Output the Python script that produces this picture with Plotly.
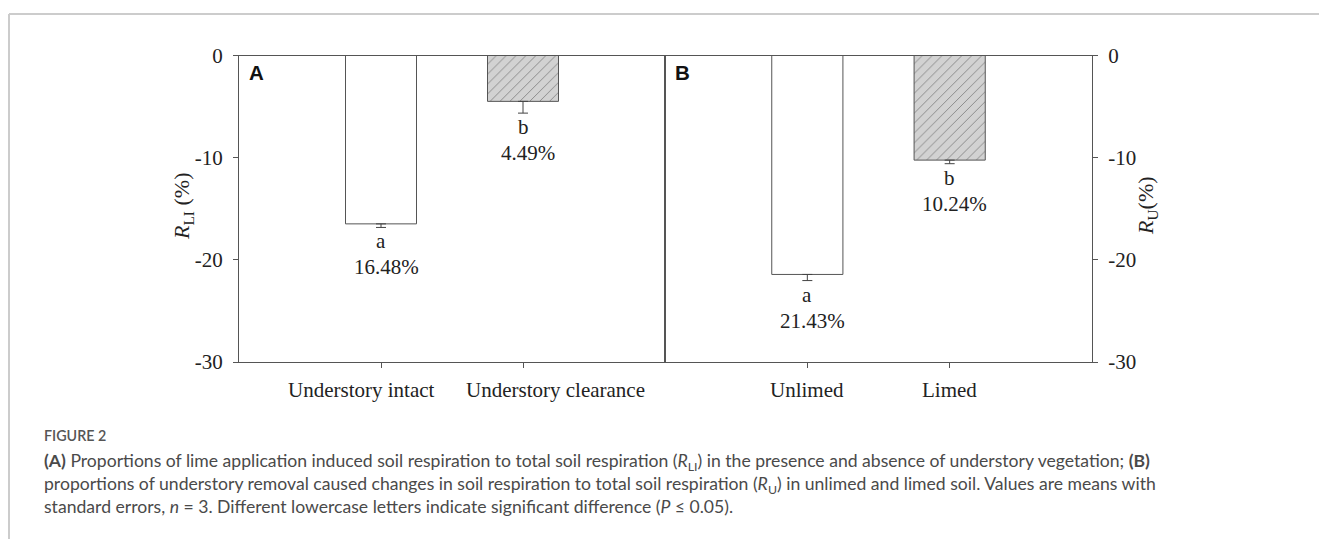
import plotly.graph_objects as go

# Panel A: lime-induced share of soil respiration, by understory treatment
cats_a = ["Understory intact", "Understory clearance"]
vals_a = [-16.48, -4.49]
se_a = [0.35, 1.15]
letters_a = ["a", "b"]

# Panel B: understory-removal share of soil respiration, by liming
cats_b = ["Unlimed", "Limed"]
vals_b = [-21.43, -10.24]
se_b = [0.6, 0.35]
letters_b = ["a", "b"]

y_ticks = [0, -10, -20, -30]
y_ticktext = ["0", "-10", "-20", "-30"]

W, H = 1319, 539
SERIF = "Liberation Serif"
AX = "#555555"
TXT = "#222222"
FS = 21


def px_x(p):
    return p / W


def px_y(p):
    return 1 - p / H


fig = go.Figure()

fills = ["white", "#d2d2d2"]

for cats, vals, se, xa, ya in [(cats_a, vals_a, se_a, "x", "y"), (cats_b, vals_b, se_b, "x2", "y2")]:
    fig.add_trace(go.Bar(
        x=cats, y=vals, xaxis=xa, yaxis=ya, width=0.5,
        marker=dict(color=fills, line=dict(color=AX, width=1), pattern=dict(
            shape=["", "/"], fgcolor="#4a4a4a", bgcolor=fills, size=7, solidity=0.14)),
        error_y=dict(type="data", symmetric=False, array=[0] * len(se), arrayminus=se,
                     color="#444444", thickness=1, width=5),
        showlegend=False, hoverinfo="skip",
    ))

annotations = []
# significance letters and mean values under each bar
for cats, vals, se, letters, xa, ya in [(cats_a, vals_a, se_a, letters_a, "x", "y"),
                                         (cats_b, vals_b, se_b, letters_b, "x2", "y2")]:
    for c, v, s, l in zip(cats, vals, se, letters):
        annotations.append(dict(x=c, y=v - s, xref=xa, yref=ya, text=l, showarrow=False,
                                xanchor="center", yanchor="top", yshift=0,
                                font=dict(family=SERIF, size=FS, color=TXT)))
        annotations.append(dict(x=c, y=v - s, xref=xa, yref=ya, text=f"{abs(v):.2f}%", showarrow=False,
                                xanchor="center", yanchor="top", yshift=-26, xshift=5,
                                font=dict(family=SERIF, size=FS, color=TXT)))

# category labels below each panel (the two long ones are spread apart)
label_shift = {"Understory intact": -20, "Understory clearance": 32}
for cats, xa in [(cats_a, "x"), (cats_b, "x2")]:
    for c in cats:
        annotations.append(dict(x=c, y=px_y(390), xref=xa, yref="paper", text=c, showarrow=False,
                                xanchor="center", yanchor="middle", xshift=label_shift.get(c, 0),
                                font=dict(family=SERIF, size=FS, color=TXT)))

# panel letters
for letter, xp in [("A", 247), ("B", 673)]:
    annotations.append(dict(x=px_x(xp), y=px_y(72), xref="paper", yref="paper", text=f"<b>{letter}</b>",
                            showarrow=False, xanchor="left", yanchor="middle",
                            font=dict(family="Liberation Sans", size=20.5, color="#111")))

# axis titles
annotations.append(dict(x=px_x(183), y=px_y(207), xref="paper", yref="paper",
                        text="<i>R</i><sub>LI</sub> (%)", textangle=-90, showarrow=False,
                        xanchor="center", yanchor="middle",
                        font=dict(family=SERIF, size=22, color=TXT)))
annotations.append(dict(x=px_x(1147), y=px_y(206), xref="paper", yref="paper",
                        text="<i>R</i><sub>U</sub>(%)", textangle=-90, showarrow=False,
                        xanchor="center", yanchor="middle",
                        font=dict(family=SERIF, size=22, color=TXT)))

# caption
CAP = "Lato"
annotations.append(dict(x=px_x(42), y=px_y(435), xref="paper", yref="paper", text="FIGURE 2",
                        showarrow=False, xanchor="left", yanchor="middle",
                        font=dict(family=CAP, size=14.3, color="#555555", weight=600)))
caption_lines = [
    "<b>(A)</b> Proportions of lime application induced soil respiration to total soil respiration "
    "(<i>R</i><sub>LI</sub>) in the presence and absence of understory vegetation; <b>(B)</b>",
    "proportions of understory removal caused changes in soil respiration to total soil respiration "
    "(<i>R</i><sub>U</sub>) in unlimed and limed soil. Values are means with",
    "standard errors, <i>n</i> = 3. Different lowercase letters indicate significant difference "
    "(<i>P</i> ≤ 0.05).",
]
annotations.append(dict(x=px_x(42), y=px_y(483), xref="paper", yref="paper",
                        text="<br>".join(caption_lines), align="left",
                        showarrow=False, xanchor="left", yanchor="middle",
                        font=dict(family=CAP, size=17.6, color="#4a4a4a")))

xcommon = dict(type="category", range=[-1, 2], showline=True, mirror=True, linecolor=AX, linewidth=1,
               ticks="outside", ticklen=5, tickcolor=AX, showgrid=False, zeroline=False,
               showticklabels=False, automargin=False)
ycommon = dict(range=[-30, 0], tickvals=y_ticks, ticktext=y_ticktext, showline=True, mirror=True,
               linecolor=AX, linewidth=1, ticks="outside", ticklen=5, tickcolor=AX, showgrid=False,
               zeroline=False, automargin=False, tickfont=dict(family=SERIF, size=FS, color=TXT),
               ticklabelstandoff=6)

fig.update_layout(
    width=W, height=H, margin=dict(l=0, r=0, t=0, b=0),
    paper_bgcolor="white", plot_bgcolor="white",
    xaxis=dict(domain=[px_x(239), px_x(665)], anchor="y", **xcommon),
    xaxis2=dict(domain=[px_x(665), px_x(1092)], anchor="y2", **xcommon),
    yaxis=dict(domain=[px_y(362), px_y(55.5)], anchor="x", side="left", **ycommon),
    yaxis2=dict(domain=[px_y(362), px_y(55.5)], anchor="x2", side="right", **ycommon),
    annotations=annotations,
    shapes=[
        dict(type="line", xref="paper", yref="paper", x0=px_x(9), x1=1, y0=px_y(14), y1=px_y(14),
             line=dict(color="#cccccc", width=2)),
        dict(type="line", xref="paper", yref="paper", x0=px_x(9), x1=px_x(9), y0=px_y(14), y1=0,
             line=dict(color="#cccccc", width=2)),
    ],
)

fig.write_html("out.html")
